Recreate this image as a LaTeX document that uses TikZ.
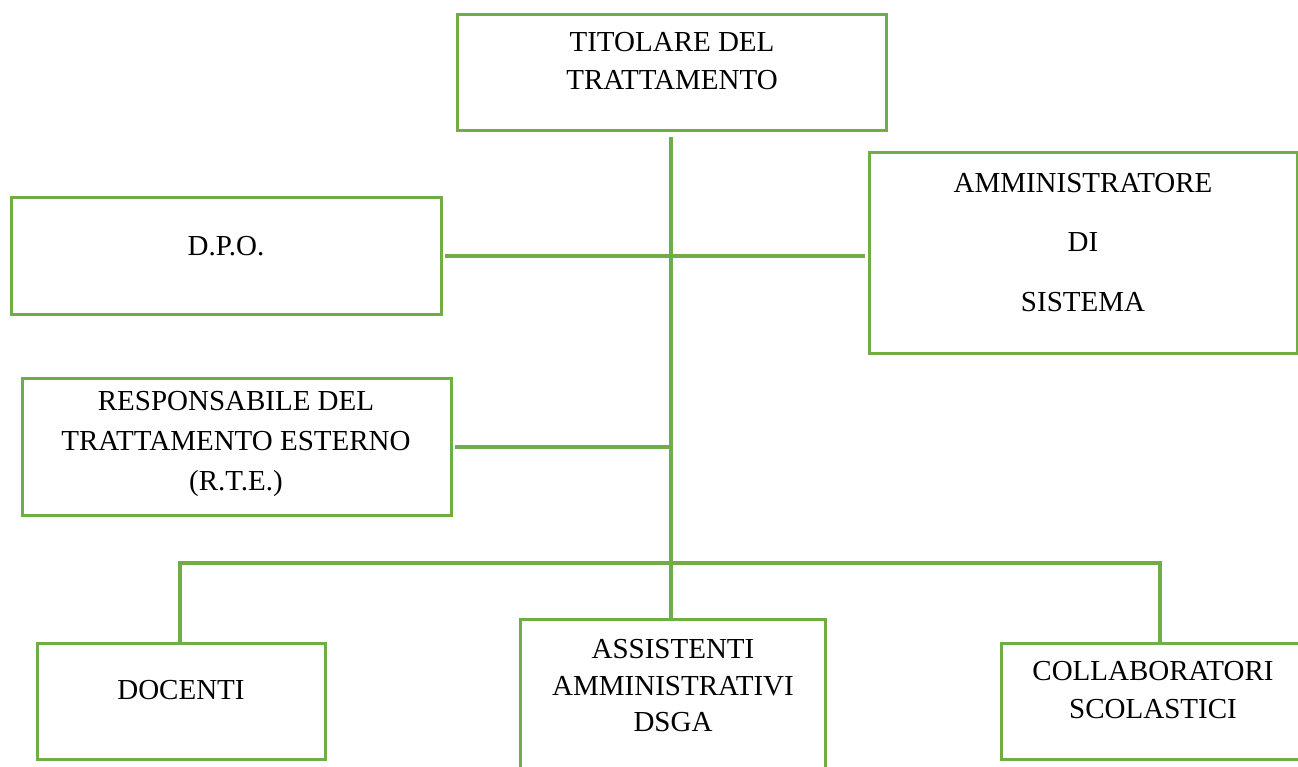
\documentclass[tikz,border=0pt]{standalone}
\usepackage{fontspec}
\setmainfont{Liberation Serif}
\usetikzlibrary{calc}
\definecolor{ogreen}{HTML}{70AD47}
\begin{document}
\begin{tikzpicture}[x=1pt,y=-1pt,
  box/.style={draw=ogreen,line width=3pt,inner sep=0pt,rectangle},
  txt/.style={inner sep=0pt,align=center,font=\fontsize{29}{38}\selectfont},
  conn/.style={draw=ogreen,line width=4pt}]
\useasboundingbox (0,0) rectangle (1298,767);
\clip (0,0) rectangle (1298,767);
\fill[white] (0,0) rectangle (1298,767);
% boxes
\node[box,minimum width=429pt,minimum height=116pt] (tit) at (671.5,73) {};
\node[box,minimum width=430pt,minimum height=116pt] (dpo) at (226,256) {};
\node[box,minimum width=428pt,minimum height=200pt] (amm) at (1083,253) {};
\node[box,minimum width=429pt,minimum height=137pt] (resp) at (236.5,446.5) {};
\node[box,minimum width=288pt,minimum height=116pt] (doc) at (181,701) {};
\node[box,minimum width=305pt,minimum height=171pt] (ass) at (672.5,704.5) {};
\node[box,minimum width=315pt,minimum height=116pt] (col) at (1158.5,701) {};
% texts
\node[txt] (titT) at (672,61.5) {TITOLARE DEL\\TRATTAMENTO};
\node[txt] (dpoT) at (226,246) {D.P.O.};
\node[txt,font=\fontsize{29}{59.5}\selectfont] (ammT) at (1083,242.5) {AMMINISTRATORE\\DI\\SISTEMA};
\node[txt,font=\fontsize{29}{40}\selectfont] (respT) at (236,444) {RESPONSABILE DEL\\TRATTAMENTO ESTERNO\\(R.T.E.)};
\node[txt] (docT) at (181,690) {DOCENTI};
\node[txt,font=\fontsize{29}{36.5}\selectfont] (assT) at (673,686) {ASSISTENTI\\AMMINISTRATIVI\\DSGA};
\node[txt] (colT) at (1153,690) {COLLABORATORI\\SCOLASTICI};
% connectors
\coordinate (vtop) at (671,137);
\coordinate (bus) at (671,563);
\draw[conn] (vtop) -- (vtop |- ass.north);
\draw[conn] ([xshift=2pt]dpo.east) -- ([xshift=-3pt]dpo.east -| amm.west);
\draw[conn] ([xshift=2pt]resp.east) -- (resp.east -| vtop);
\draw[conn] ([xshift=-1pt]doc.north) |- (bus) -| ([xshift=1pt]col.north);
\end{tikzpicture}
\end{document}
